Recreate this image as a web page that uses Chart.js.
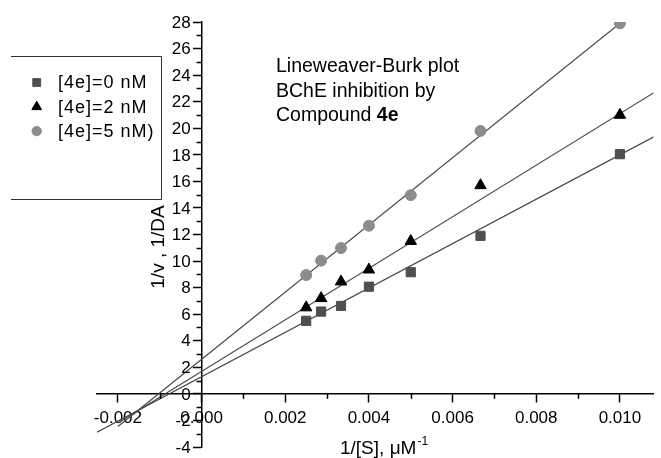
<!DOCTYPE html>
<html><head><meta charset="utf-8">
<script src="https://cdn.jsdelivr.net/npm/chart.js@4.4.0/dist/chart.umd.min.js"></script>
<style>html,body{margin:0;padding:0;background:#fff;overflow:hidden}</style>
</head><body>
<canvas id="c" width="661" height="458"></canvas>
<script>
// ---- data ----
const invSubstrate = [0.0025, 0.002857, 0.003333, 0.004, 0.005, 0.006667, 0.010];
const rate0nM = [5.5, 6.2, 6.62, 8.07, 9.16, 11.9, 18.05];
const rate2nM = [6.5, 7.2, 8.45, 9.35, 11.5, 15.7, 21.0];
const rate5nM = [8.95, 10.03, 10.98, 12.66, 14.96, 19.8, 27.9];
const seriesLabels = ['[4e]=0 nM', '[4e]=2 nM', '[4e]=5 nM)'];
// fitted straight lines: end points
const fit0X = [-0.0025, 0.011], fit0Y = [-2.88, 19.67];
const fit2X = [-0.002, 0.011],  fit2Y = [-2.2, 23.04];
const fit5X = [-0.002, 0.011],  fit5Y = [-2.46, 30.43];
const xTickLabels = ['-0.002', '0.000', '0.002', '0.004', '0.006', '0.008', '0.010'];
const yTickLabels = ['-4', '-2', '0', '2', '4', '6', '8', '10', '12', '14', '16', '18', '20', '22', '24', '26', '28'];
const noteLines = ['Lineweaver-Burk plot', 'BChE inhibition by', 'Compound '];
const noteBold = '4e';
const xTitle = '1/[S], \u03bcM';
const xTitleSup = '-1';
const yTitle = '1/v , 1/DA';

const FONT = '"Liberation Sans", Arial, sans-serif';
const pts = (ys) => invSubstrate.map((x, i) => ({x: x, y: ys[i]}));
const seg = (xs, ys) => xs.map((x, i) => ({x: x, y: ys[i]}));

const pointStyles = [
  {pointStyle: 'rect', color: '#4f4f4f', radius: 6.5},
  {pointStyle: 'triangle', color: '#000000', radius: 6.6},
  {pointStyle: 'circle', color: '#8c8c8c', radius: 5.5}
];

function fmtX(v) { return (Math.round(v * 1000) / 1000).toFixed(3); }
function isMajor(v, step) { return Math.abs(Math.round(v / step) * step - v) < step * 1e-6; }

const overlay = {
  id: 'overlay',
  afterDraw(chart) {
    const ctx = chart.ctx, xs = chart.scales.x, ys = chart.scales.y;
    const x0 = xs.getPixelForValue(0), y0 = ys.getPixelForValue(0);
    ctx.save();
    ctx.strokeStyle = '#000'; ctx.lineWidth = 1.5;
    // minor ticks
    xs.ticks.forEach(t => {
      if (!isMajor(t.value, 0.002)) {
        const px = Math.round(xs.getPixelForValue(t.value)) + 0.5;
        ctx.beginPath(); ctx.moveTo(px, y0); ctx.lineTo(px, y0 + 5); ctx.stroke();
      }
    });
    ys.ticks.forEach(t => {
      if (!isMajor(t.value, 2)) {
        const py = Math.round(ys.getPixelForValue(t.value)) + 0.5;
        ctx.beginPath(); ctx.moveTo(x0, py); ctx.lineTo(x0 - 5, py); ctx.stroke();
      }
    });
    // y tick labels
    ctx.fillStyle = '#000';
    ctx.font = '17px ' + FONT;
    ctx.textAlign = 'right'; ctx.textBaseline = 'middle';
    ys.ticks.forEach(t => {
      const s = String(Math.round(t.value));
      if (yTickLabels.includes(s) && isMajor(t.value, 2)) {
        ctx.fillText(s, x0 - 11, ys.getPixelForValue(t.value) + 1);
      }
    });
    // axis titles
    ctx.font = '19px ' + FONT;
    ctx.textAlign = 'left'; ctx.textBaseline = 'alphabetic';
    ctx.fillText(xTitle, 340, 454);
    const w = ctx.measureText(xTitle).width;
    ctx.font = '12px ' + FONT;
    ctx.fillText(xTitleSup, 340 + w + 1, 445);
    ctx.save();
    ctx.translate(164, 247); ctx.rotate(-Math.PI / 2);
    ctx.font = '19px ' + FONT; ctx.textAlign = 'center'; ctx.textBaseline = 'alphabetic';
    ctx.fillText(yTitle, 0, 0);
    ctx.restore();
    // note
    ctx.font = '19.5px ' + FONT; ctx.textAlign = 'left'; ctx.textBaseline = 'alphabetic';
    noteLines.forEach((s, i) => ctx.fillText(s, 276, 72 + i * 24.5));
    const cw = ctx.measureText(noteLines[2]).width;
    ctx.font = 'bold 19.5px ' + FONT;
    ctx.fillText(noteBold, 276 + cw, 72 + 2 * 24.5);
    // legend box (three sides)
    ctx.strokeStyle = '#333'; ctx.lineWidth = 1;
    ctx.beginPath();
    ctx.moveTo(11, 56.5); ctx.lineTo(161.5, 56.5); ctx.lineTo(161.5, 199.5); ctx.lineTo(11, 199.5);
    ctx.stroke();
    ctx.font = '18px ' + FONT; ctx.textBaseline = 'middle';
    if (ctx.letterSpacing !== undefined) ctx.letterSpacing = '1px';
    seriesLabels.forEach((lab, i) => {
      const cy = 82.5 + i * 24.3;
      const st = pointStyles[i];
      ctx.fillStyle = st.color; ctx.strokeStyle = st.color; ctx.lineWidth = 1;
      Chart.helpers.drawPoint(ctx, {pointStyle: st.pointStyle, radius: st.radius * 0.85, borderWidth: 1, rotation: 0}, 36.7, cy);
      ctx.fillStyle = '#000';
      ctx.fillText(lab, 58, cy + 1);
    });
    ctx.restore();
  }
};

const pointSets = [rate0nM, rate2nM, rate5nM].map((ys, i) => ({
  type: 'scatter', label: seriesLabels[i], data: pts(ys), order: 0,
  pointStyle: pointStyles[i].pointStyle, pointRadius: pointStyles[i].radius,
  pointHoverRadius: pointStyles[i].radius,
  backgroundColor: pointStyles[i].color, borderColor: pointStyles[i].color, borderWidth: 1
}));
const fitSets = [[fit0X, fit0Y], [fit2X, fit2Y], [fit5X, fit5Y]].map(([xs, ys]) => ({
  type: 'line', label: '', data: seg(xs, ys), order: 1,
  borderColor: '#4a4a4a', borderWidth: 1.2, pointRadius: 0, fill: false, tension: 0
}));

new Chart(document.getElementById('c'), {
  data: {datasets: pointSets.concat(fitSets)},
  plugins: [overlay],
  options: {
    responsive: false, animation: false, devicePixelRatio: 1,
    layout: {padding: {left: 97, right: 0, top: 22, bottom: 11}},
    plugins: {legend: {display: false}, tooltip: {enabled: false}},
    scales: {
      x: {
        type: 'linear', position: {y: 0}, min: -0.0025, max: 0.0108,
        afterFit: (s) => { s.height = 0; },
        border: {display: true, color: '#000', width: 1.5},
        grid: {drawOnChartArea: false, drawTicks: true, tickLength: 8, tickWidth: 1.5,
               tickColor: (c) => (c.tick && isMajor(c.tick.value, 0.002)) ? '#000' : 'rgba(0,0,0,0)'},
        ticks: {
          stepSize: 0.001, includeBounds: false, autoSkip: false, maxRotation: 0, padding: 6,
          color: '#000', font: {family: FONT, size: 17},
          callback: (v) => { const s = fmtX(v); return (isMajor(v, 0.002) && xTickLabels.includes(s)) ? s : ''; }
        }
      },
      y: {
        type: 'linear', position: {x: 0}, min: -4, max: 28,
        afterFit: (s) => { s.width = 0; },
        border: {display: true, color: '#000', width: 1.5},
        grid: {drawOnChartArea: false, drawTicks: true, tickLength: 8, tickWidth: 1.5,
               tickColor: (c) => (c.tick && isMajor(c.tick.value, 2)) ? '#000' : 'rgba(0,0,0,0)'},
        ticks: {stepSize: 1, display: false, autoSkip: false}
      }
    }
  }
});
</script>
</body></html>
